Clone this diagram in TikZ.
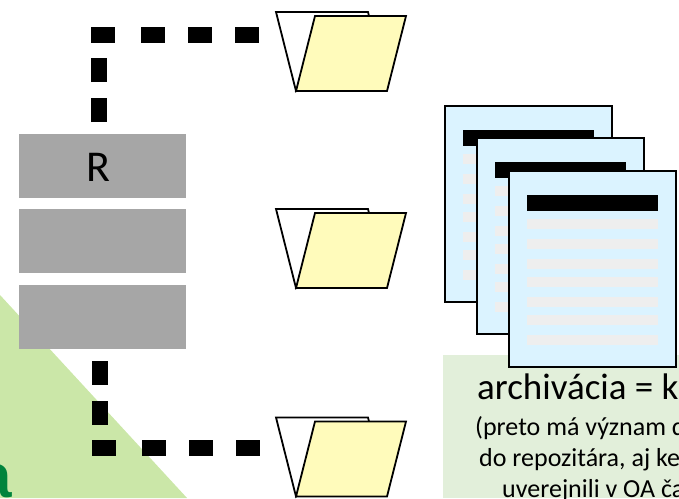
\documentclass[tikz,border=0pt]{standalone}
\usepackage{fontspec}
\setmainfont{Carlito}
\newfontfamily\boldsans{Liberation Sans}[BoldFont=Liberation Sans Bold]
\definecolor{greybox}{HTML}{A6A6A6}
\definecolor{trianglegreen}{HTML}{CBE7A8}
\definecolor{notegreen}{HTML}{E2EFDA}
\definecolor{pageblue}{HTML}{DBF3FF}
\definecolor{linegrey}{HTML}{EEEEEE}
\definecolor{folderyellow}{HTML}{FFFBBB}
\definecolor{darkgreen}{HTML}{00843C}
\tikzset{
  x=1pt,y=-1pt,
  greybar/.style={fill=greybox,draw=none,minimum width=167pt,minimum height=64pt,inner sep=0pt,outer sep=0pt},
  thickdash/.style={draw=black,line width=16pt,line cap=butt},
  folderline/.style={draw=black,line width=1.8pt,line join=miter},
  pagesheet/.style={draw=black,line width=1.4pt,fill=pageblue},
  notetext/.style={anchor=base west,inner sep=0pt,text=black},
  folder/.pic={
    \path[folderline,fill=white] (0,0) -- (92,0) -- (93,4) -- (20,79) -- cycle;
    \path[folderline,fill=folderyellow] (39,4) -- (130,4) -- (111,79) -- (20,79) -- cycle;
  },
  docpage/.pic={
    \path[pagesheet] (0,0) rectangle (167,196);
    \fill[black] (18,24) rectangle (149,40);
    \foreach \yy in {48,68,88,106,126,144,164}
      \fill[linegrey] (18,\yy) rectangle (149,\yy+10);
  }
}
\begin{document}
\begin{tikzpicture}
\useasboundingbox (0,0) rectangle (679,498);
\clip (0,0) rectangle (679,498);
% background triangle and label
\fill[trianglegreen] (0,295) -- (187,498) -- (0,498) -- cycle;
\node[anchor=base east,inner sep=0pt,text=darkgreen,font=\boldsans\bfseries\fontsize{62}{62}\selectfont] (lbl) at (12,497) {a};
% grey bars
\node[greybar] (r1) at (102.5,166) {};
\node[greybar] (r2) at (102.5,241) {};
\node[greybar] (r3) at (102.5,317) {};
\node[anchor=base,inner sep=0pt,font=\fontsize{44}{44}\selectfont] (rlabel) at (98.5,181) {R};
% folders
\pic at (276,12) {folder};
\pic at (276,209) {folder};
\pic at (276,417.5) {folder};
\coordinate (f1) at (277,35);
\coordinate (f3) at (277,448);
\coordinate (c1) at (99,35);
\coordinate (c1s) at (91,35);
\coordinate (c3) at (100,448);
\coordinate (c3s) at (92,448);
% connectors
\draw[thickdash,dash pattern=on 0pt off 12pt on 24pt off 16pt on 24pt off 100pt] (r1.north -| c1) -- (c1|-0,43);
\draw[thickdash,dash pattern=on 24pt off 26pt on 24pt off 23pt on 24pt off 23pt on 24pt off 100pt] (c1s) -- (f1);
\draw[thickdash,dash pattern=on 0pt off 12pt on 24pt off 16pt on 24pt off 100pt] (r3.south -| c3) -- (c3|-0,440);
\draw[thickdash,dash pattern=on 24pt off 26pt on 24pt off 23pt on 24pt off 23pt on 24pt off 100pt] (c3s) -- (f3);
% note box
\fill[notegreen] (443,355) rectangle (679,498);
% pages
\pic at (445,106) {docpage};
\pic at (477,138) {docpage};
\pic at (509,171) {docpage};
% note text
\node[notetext,font=\fontsize{37}{37}\selectfont] (t1) at (477,399) {archivácia = k};
\node[notetext,font=\fontsize{26}{26}\selectfont] (t2) at (475,435) {(preto má význam d};
\node[notetext,font=\fontsize{26}{26}\selectfont] (t3) at (479,466) {do repozitára, aj ke};
\node[notetext,font=\fontsize{26}{26}\selectfont] (t4) at (502,497) {uverejnili v OA ča};
\end{tikzpicture}
\end{document}
